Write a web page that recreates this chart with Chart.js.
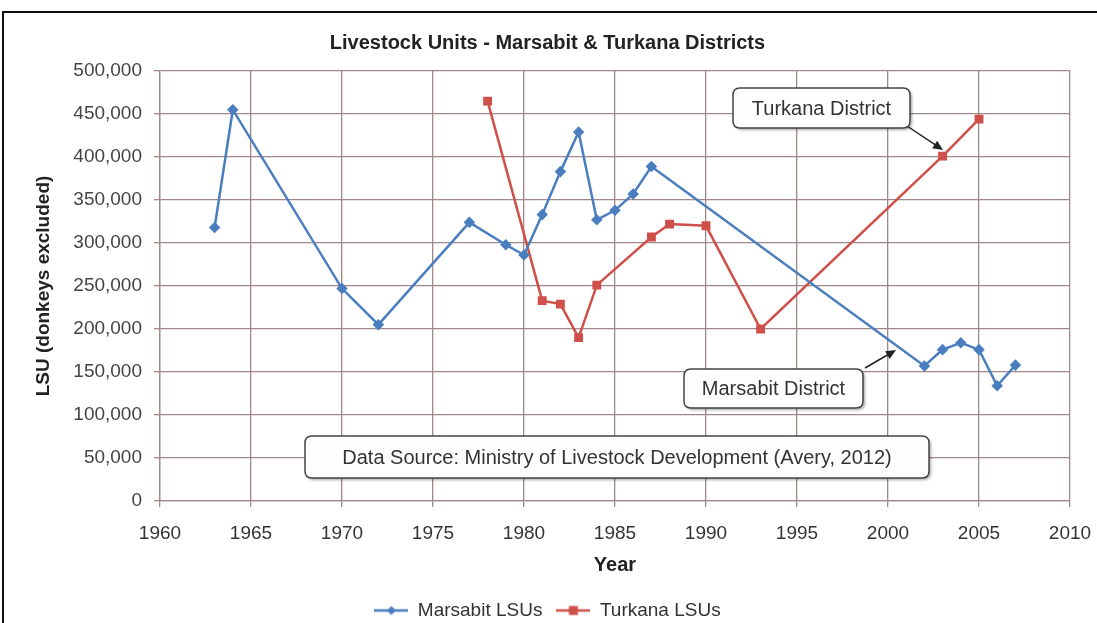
<!DOCTYPE html>
<html>
<head>
<meta charset="utf-8">
<script src="https://cdn.jsdelivr.net/npm/chart.js@4.4.1/dist/chart.umd.min.js"></script>
<style>
html, body { margin: 0; padding: 0; background: #fff; }
#wrap { width: 1097px; height: 623px; }
</style>
</head>
<body>
<div id="wrap"><canvas id="lsu" width="1097" height="623"></canvas></div>
<script>
// values
const marsabitYears = [1963, 1964, 1970, 1972, 1977, 1979, 1980, 1981, 1982, 1983, 1984, 1985, 1986, 1987, 2002, 2003, 2004, 2005, 2006, 2007];
const marsabitLSU = [318000, 455000, 247000, 205000, 324000, 298000, 286000, 333000, 383000, 429000, 327000, 338000, 357000, 389000, 157000, 176000, 184000, 176000, 134000, 158000];
const turkanaYears = [1978, 1981, 1982, 1983, 1984, 1987, 1988, 1990, 1993, 2003, 2005];
const turkanaLSU = [465000, 233000, 229000, 190000, 251000, 307000, 322000, 320000, 200000, 401000, 444000];

const blue = '#4a7ebf';
const red = '#cf4f4a';
const gridColor = '#a08888';
const font = 'Liberation Sans, Arial, sans-serif';

Chart.defaults.font.family = font;
Chart.defaults.color = '#333';

function pairs(xs, ys) {
  return xs.map((x, i) => ({ x: x, y: ys[i] }));
}

// little line+marker picture for the legend, like Excel draws it
function legendIcon(color, shape) {
  const c = document.createElement('canvas');
  c.width = 34;
  c.height = 12;
  const g = c.getContext('2d');
  g.strokeStyle = color;
  g.fillStyle = color;
  g.lineWidth = 2.5;
  g.beginPath();
  g.moveTo(0, 6);
  g.lineTo(34, 6);
  g.stroke();
  g.beginPath();
  if (shape === 'diamond') {
    g.moveTo(17, 1.5); g.lineTo(21.5, 6); g.lineTo(17, 10.5); g.lineTo(12.5, 6);
  } else {
    g.rect(12.5, 1.5, 9, 9);
  }
  g.closePath();
  g.fill();
  return c;
}
const icons = [legendIcon(blue, 'diamond'), legendIcon(red, 'square')];

// call-out boxes drawn over the plot
const callouts = [
  { text: 'Turkana District', x: 733, y: 88, w: 177, h: 40, from: [907, 126], to: [943, 150] },
  { text: 'Marsabit District', x: 684, y: 369, w: 179, h: 39, from: [865, 368], to: [896, 350] },
  { text: 'Data Source: Ministry of Livestock Development (Avery, 2012)', x: 305, y: 436, w: 624, h: 42 }
];

function roundBox(ctx, x, y, w, h, r) {
  ctx.beginPath();
  ctx.moveTo(x + r, y);
  ctx.lineTo(x + w - r, y);
  ctx.quadraticCurveTo(x + w, y, x + w, y + r);
  ctx.lineTo(x + w, y + h - r);
  ctx.quadraticCurveTo(x + w, y + h, x + w - r, y + h);
  ctx.lineTo(x + r, y + h);
  ctx.quadraticCurveTo(x, y + h, x, y + h - r);
  ctx.lineTo(x, y + r);
  ctx.quadraticCurveTo(x, y, x + r, y);
  ctx.closePath();
}

const decorations = {
  id: 'decorations',
  beforeDraw(c) {
    const ctx = c.ctx;
    ctx.save();
    ctx.fillStyle = '#fff';
    ctx.fillRect(0, 0, c.width, c.height);
    ctx.strokeStyle = '#111';
    ctx.lineWidth = 2;
    ctx.beginPath();
    ctx.moveTo(3, c.height);
    ctx.lineTo(3, 12);
    ctx.lineTo(c.width, 12);
    ctx.stroke();
    ctx.restore();
  },
  afterDatasetsDraw(c) {
    const ctx = c.ctx;
    ctx.save();
    callouts.forEach(b => {
      if (b.from) {
        const dx = b.to[0] - b.from[0], dy = b.to[1] - b.from[1];
        const a = Math.atan2(dy, dx);
        ctx.strokeStyle = '#222';
        ctx.fillStyle = '#222';
        ctx.lineWidth = 1.5;
        ctx.beginPath();
        ctx.moveTo(b.from[0], b.from[1]);
        ctx.lineTo(b.to[0] - 6 * Math.cos(a), b.to[1] - 6 * Math.sin(a));
        ctx.stroke();
        ctx.beginPath();
        ctx.moveTo(b.to[0], b.to[1]);
        ctx.lineTo(b.to[0] - 10 * Math.cos(a) + 4.5 * Math.sin(a), b.to[1] - 10 * Math.sin(a) - 4.5 * Math.cos(a));
        ctx.lineTo(b.to[0] - 10 * Math.cos(a) - 4.5 * Math.sin(a), b.to[1] - 10 * Math.sin(a) + 4.5 * Math.cos(a));
        ctx.closePath();
        ctx.fill();
      }
      ctx.save();
      ctx.shadowColor = 'rgba(0,0,0,0.35)';
      ctx.shadowOffsetX = 2;
      ctx.shadowOffsetY = 2;
      ctx.shadowBlur = 3;
      roundBox(ctx, b.x, b.y, b.w, b.h, 7);
      ctx.fillStyle = '#fdfdfd';
      ctx.fill();
      ctx.restore();
      roundBox(ctx, b.x, b.y, b.w, b.h, 7);
      ctx.strokeStyle = '#444';
      ctx.lineWidth = 1.5;
      ctx.stroke();
      ctx.fillStyle = '#333';
      ctx.font = '20px ' + font;
      ctx.textAlign = 'center';
      ctx.textBaseline = 'middle';
      ctx.fillText(b.text, b.x + b.w / 2, b.y + b.h / 2 + 1, b.w - 12);
    });
    ctx.restore();
  }
};

new Chart(document.getElementById('lsu'), {
  type: 'line',
  data: {
    datasets: [{
      label: 'Marsabit LSUs',
      data: pairs(marsabitYears, marsabitLSU),
      borderColor: blue,
      backgroundColor: blue,
      borderWidth: 2.5,
      pointStyle: 'rectRot',
      pointRadius: 4,
      tension: 0
    }, {
      label: 'Turkana LSUs',
      data: pairs(turkanaYears, turkanaLSU),
      borderColor: red,
      backgroundColor: red,
      borderWidth: 2.5,
      pointStyle: 'rect',
      pointRadius: 4.5,
      tension: 0
    }]
  },
  options: {
    responsive: false,
    animation: false,
    layout: { padding: { left: 25, right: 27, top: 14, bottom: -7 } },
    scales: {
      x: {
        type: 'linear',
        min: 1960,
        max: 2010,
        afterFit: s => { s.height = 86; s.paddingRight = 0; },
        ticks: {
          stepSize: 5,
          padding: 15,
          color: '#333',
          font: { size: 19 },
          callback: v => String(v)
        },
        grid: { color: gridColor, lineWidth: 1.3, tickLength: 6 },
        border: { color: gridColor, width: 1.3 },
        title: {
          display: true,
          text: 'Year',
          color: '#222',
          font: { size: 20, weight: 'bold' },
          padding: { top: 0, bottom: 10 }
        }
      },
      y: {
        min: 0,
        max: 500000,
        afterFit: s => { s.width = 135; },
        ticks: {
          stepSize: 50000,
          padding: 12,
          color: '#444',
          font: { size: 19 },
          callback: v => v.toLocaleString('en-US')
        },
        grid: { color: gridColor, lineWidth: 1.3, tickLength: 6 },
        border: { color: gridColor, width: 1.3 },
        title: {
          display: true,
          text: 'LSU (donkeys excluded)',
          color: '#222',
          font: { size: 19, weight: 'bold' },
          padding: { top: 7, bottom: 0 }
        }
      }
    },
    plugins: {
      title: {
        display: true,
        text: 'Livestock Units - Marsabit & Turkana Districts',
        color: '#222',
        font: { size: 20, weight: 'bold' },
        padding: { top: 17, bottom: 16 }
      },
      legend: {
        position: 'bottom',
        labels: {
          usePointStyle: true,
          pointStyleWidth: 34,
          padding: 14,
          color: '#333',
          font: { size: 19 },
          generateLabels: chart => Chart.defaults.plugins.legend.labels.generateLabels(chart)
            .map((l, i) => Object.assign(l, { pointStyle: icons[i] }))
        }
      },
      tooltip: { enabled: false }
    }
  },
  plugins: [decorations]
});
</script>
</body>
</html>
